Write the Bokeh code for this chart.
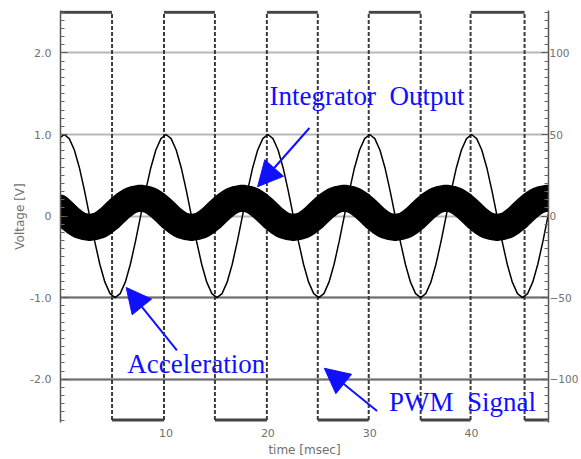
from bokeh.plotting import figure
from bokeh.models import (Range1d, LinearAxis, SingleIntervalTicker, FixedTicker,
                          Label, Arrow, NormalHead, Grid, ColumnDataSource,
                          PrintfTickFormatter)
from bokeh.embed import file_html
from bokeh.resources import INLINE

# ---------------- data ----------------
time_ms = [
    -0.5, 0.0, 0.5, 1.0, 1.5, 2.0, 2.5, 3.0, 3.5, 4.0,
    4.5, 5.0, 5.5, 6.0, 6.5, 7.0, 7.5, 8.0, 8.5, 9.0,
    9.5, 10.0, 10.5, 11.0, 11.5, 12.0, 12.5, 13.0, 13.5, 14.0,
    14.5, 15.0, 15.5, 16.0, 16.5, 17.0, 17.5, 18.0, 18.5, 19.0,
    19.5, 20.0, 20.5, 21.0, 21.5, 22.0, 22.5, 23.0, 23.5, 24.0,
    24.5, 25.0, 25.5, 26.0, 26.5, 27.0, 27.5, 28.0, 28.5, 29.0,
    29.5, 30.0, 30.5, 31.0, 31.5, 32.0, 32.5, 33.0, 33.5, 34.0,
    34.5, 35.0, 35.5, 36.0, 36.5, 37.0, 37.5, 38.0, 38.5, 39.0,
    39.5, 40.0, 40.5, 41.0, 41.5, 42.0, 42.5, 43.0, 43.5, 44.0,
    44.5, 45.0, 45.5, 46.0, 46.5, 47.0, 47.5, 48.0,
]

acceleration_v = [
    0.95, 1.00, 0.95, 0.81, 0.59, 0.31, 0.00, -0.31, -0.59, -0.81,
    -0.95, -1.00, -0.95, -0.81, -0.59, -0.31, 0.00, 0.31, 0.59, 0.81,
    0.95, 1.00, 0.95, 0.81, 0.59, 0.31, 0.00, -0.31, -0.59, -0.81,
    -0.95, -1.00, -0.95, -0.81, -0.59, -0.31, 0.00, 0.31, 0.59, 0.81,
    0.95, 1.00, 0.95, 0.81, 0.59, 0.31, 0.00, -0.31, -0.59, -0.81,
    -0.95, -1.00, -0.95, -0.81, -0.59, -0.31, 0.00, 0.31, 0.59, 0.81,
    0.95, 1.00, 0.95, 0.81, 0.59, 0.31, 0.00, -0.31, -0.59, -0.81,
    -0.95, -1.00, -0.95, -0.81, -0.59, -0.31, 0.00, 0.31, 0.59, 0.81,
    0.95, 1.00, 0.95, 0.81, 0.59, 0.31, 0.00, -0.31, -0.59, -0.81,
    -0.95, -1.00, -0.95, -0.81, -0.59, -0.31, 0.00, 0.31,
]

integrator_v = [
    0.10, 0.04, -0.02, -0.07, -0.11, -0.13, -0.14, -0.13, -0.11, -0.07,
    -0.02, 0.04, 0.10, 0.15, 0.19, 0.21, 0.22, 0.21, 0.19, 0.15,
    0.10, 0.04, -0.02, -0.07, -0.11, -0.13, -0.14, -0.13, -0.11, -0.07,
    -0.02, 0.04, 0.10, 0.15, 0.19, 0.21, 0.22, 0.21, 0.19, 0.15,
    0.10, 0.04, -0.02, -0.07, -0.11, -0.13, -0.14, -0.13, -0.11, -0.07,
    -0.02, 0.04, 0.10, 0.15, 0.19, 0.21, 0.22, 0.21, 0.19, 0.15,
    0.10, 0.04, -0.02, -0.07, -0.11, -0.13, -0.14, -0.13, -0.11, -0.07,
    -0.02, 0.04, 0.10, 0.15, 0.19, 0.21, 0.22, 0.21, 0.19, 0.15,
    0.10, 0.04, -0.02, -0.07, -0.11, -0.13, -0.14, -0.13, -0.11, -0.07,
    -0.02, 0.04, 0.10, 0.15, 0.19, 0.21, 0.22, 0.21,
]

pwm_edges_ms = [4.7, 9.8, 14.8, 19.9, 24.9, 29.9, 35.0, 39.9, 45.2]
pwm_span_ms = [-0.5, 48.0]
pwm_high_v = 2.5
pwm_low_v = -2.5

x_ticks = [10, 20, 30, 40]
left_ticks = [-2, -1, 0, 1, 2]
left_tick_labels = ["-2.0", "-1.0", "0", "1.0", "2.0"]
right_scale = 50.0          # right axis units per volt
dark_grid_levels = [-2, -1]

# ---------------- figure ----------------
Y0, Y1 = -2.53, 2.52
p = figure(width=581, height=459,
           x_range=Range1d(-0.36, 47.55), y_range=Range1d(Y0, Y1),
           output_backend="svg", toolbar_location=None,
           min_border_left=60, min_border_right=31,
           min_border_top=10, min_border_bottom=37)
p.outline_line_color = None
p.background_fill_color = "white"
p.border_fill_color = "white"

p.extra_y_ranges = {"acc": Range1d(Y0 * right_scale, Y1 * right_scale)}

TICK_FONT = "DejaVu Sans"
TICK_COLOR = "#707070"

# bottom axis
xa = p.xaxis[0]
xa.ticker = FixedTicker(ticks=x_ticks)
xa.axis_line_color = None
xa.major_tick_line_color = None
xa.minor_tick_line_color = None
xa.major_tick_in = 0
xa.major_tick_out = 0
xa.minor_tick_in = 0
xa.minor_tick_out = 0
xa.axis_label = "time [msec]"
xa.axis_label_text_font = TICK_FONT
xa.axis_label_text_font_size = "12px"
xa.axis_label_text_font_style = "normal"
xa.axis_label_text_color = TICK_COLOR
xa.axis_label_standoff = 3
xa.major_label_text_font = TICK_FONT
xa.major_label_text_font_size = "11px"
xa.major_label_text_color = TICK_COLOR
xa.major_label_standoff = 6

# left axis
ya = p.yaxis[0]
ya.ticker = SingleIntervalTicker(interval=1, num_minor_ticks=10)
ya.formatter = PrintfTickFormatter(format="%.1f")
ya.major_label_overrides = {float(t): s for t, s in zip(left_ticks, left_tick_labels)}
ya.axis_label = "Voltage [V]"
ya.axis_label_text_font = TICK_FONT
ya.axis_label_text_font_size = "12px"
ya.axis_label_text_font_style = "normal"
ya.axis_label_text_color = TICK_COLOR
ya.axis_label_standoff = 0
ya.major_label_text_font = TICK_FONT
ya.major_label_text_font_size = "11px"
ya.major_label_text_color = TICK_COLOR
ya.major_label_standoff = 9
ya.axis_line_color = "#555555"
ya.axis_line_width = 1.5
ya.major_tick_in = 7
ya.major_tick_out = 0
ya.minor_tick_in = 4
ya.minor_tick_out = 0
ya.major_tick_line_color = "#555555"
ya.minor_tick_line_color = "#666666"

# right axis
ra = LinearAxis(y_range_name="acc",
                ticker=SingleIntervalTicker(interval=50, num_minor_ticks=10))
ra.major_label_text_font = TICK_FONT
ra.major_label_text_font_size = "10.5px"
ra.major_label_text_color = TICK_COLOR
ra.major_label_standoff = 1
ra.axis_line_color = "#555555"
ra.axis_line_width = 1.5
ra.major_tick_in = 7
ra.major_tick_out = 0
ra.minor_tick_in = 4
ra.minor_tick_out = 0
ra.major_tick_line_color = "#555555"
ra.minor_tick_line_color = "#666666"
p.add_layout(ra, "right")

# grids
p.xgrid.visible = False
p.ygrid.grid_line_color = "#b8b8b8"
p.ygrid.grid_line_width = 2
dark_grid = Grid(dimension=1, ticker=FixedTicker(ticks=dark_grid_levels),
                 grid_line_color="#707070", grid_line_width=2)
p.add_layout(dark_grid)

# ---------------- PWM signal ----------------
bounds = [pwm_span_ms[0]] + pwm_edges_ms + [pwm_span_ms[1]]
hx0, hx1, hy = [], [], []
for i in range(len(bounds) - 1):
    hx0.append(bounds[i])
    hx1.append(bounds[i + 1])
    hy.append(pwm_high_v if i % 2 == 0 else pwm_low_v)
p.segment(x0=hx0, y0=hy, x1=hx1, y1=hy, line_color="#444444", line_width=3)
p.segment(x0=pwm_edges_ms, y0=[pwm_low_v] * len(pwm_edges_ms),
          x1=pwm_edges_ms, y1=[pwm_high_v] * len(pwm_edges_ms),
          line_color="#3a3a3a", line_width=2, line_dash="4 2")

# ---------------- curves ----------------
src = ColumnDataSource(dict(t=time_ms, acc=acceleration_v, integ=integrator_v))
p.line("t", "acc", source=src, line_color="black", line_width=1.5)
p.line("t", "integ", source=src, line_color="black", line_width=27,
       line_join="round", line_cap="round")

# ---------------- annotations ----------------
BLUE = "#1010ff"
SERIF = "Liberation Serif"
NB = "\u00a0"
labels = [
    ("Integrator" + NB + NB + "Output", 20.17, 1.47),
    ("Acceleration", 6.19, -1.81),
    ("PWM" + NB + NB + "Signal", 31.9, -2.28),
]
for txt, lx, ly in labels:
    p.add_layout(Label(x=lx, y=ly, text=txt, text_font=SERIF,
                       text_font_size="27px", text_color=BLUE,
                       text_baseline="alphabetic", text_align="left"))

arrows = [
    (24.08, 1.08, 18.99, 0.36),
    (11.07, -1.645, 6.09, -0.875),
    (30.72, -2.39, 25.54, -1.865),
]
for xs, ys, xe, ye in arrows:
    p.add_layout(Arrow(x_start=xs, y_start=ys, x_end=xe, y_end=ye,
                       line_color=BLUE, line_width=2,
                       end=NormalHead(size=25, fill_color=BLUE, line_color=BLUE)))

open("out.html", "w").write(file_html(p, INLINE))
